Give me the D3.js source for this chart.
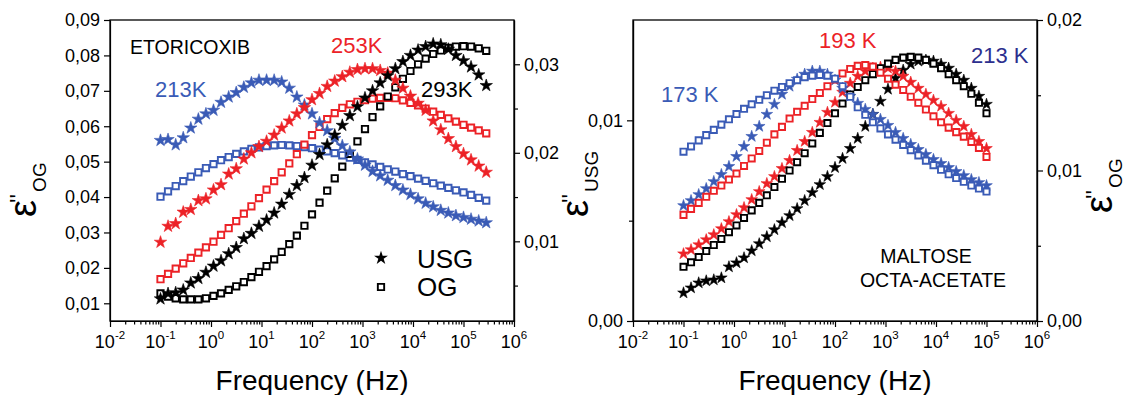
<!DOCTYPE html>
<meta charset="utf-8">
<head>
<style>
body { margin: 0; background: #fff; }
text { font-family: "Liberation Sans", Arial, sans-serif; fill: #000; }
.axis path, .axis line { fill: none; stroke: #000; stroke-width: 1.2px; }
.axis text { font-size: 18px; font-family: "Liberation Sans", Arial, sans-serif; }
</style>
</head>
<body>
<div id="chart"></div>
<script src="https://d3js.org/d3.v7.min.js"></script>
<script>

// frequencies (Hz)
var freqEto = [0.1, 0.141, 0.2, 0.282, 0.398, 0.562, 0.794, 1.12, 1.58, 2.24, 3.16, 4.47, 6.31, 8.91,
  12.6, 17.8, 25.1, 35.5, 50.1, 70.8, 100, 141, 200, 282, 398, 562, 794, 1120, 1580, 2240, 3160,
  4470, 6310, 8910, 12600, 17800, 25100, 35500, 50100, 70800, 100000, 141000, 200000, 282000];
var freqMalt = [0.1, 0.141, 0.2, 0.282, 0.398, 0.562, 0.794, 1.12, 1.58, 2.24, 3.16, 4.47, 6.31, 8.91,
  12.6, 17.8, 25.1, 35.5, 50.1, 70.8, 100, 141, 200, 282, 398, 562, 794, 1120, 1580, 2240, 3160,
  4470, 6310, 8910, 12600, 17800, 25100, 35500, 50100, 70800, 100000];

// ETORICOXIB, OG (left axis) and USG (right axis)
var etoOG213 = [0.0401, 0.0416, 0.0431, 0.0445, 0.0458, 0.0470, 0.0482, 0.0493, 0.0504, 0.0513, 0.0522, 0.0529, 0.0536, 0.0540, 0.0544, 0.0546, 0.0547, 0.0546, 0.0544, 0.0541, 0.0538, 0.0534, 0.0529, 0.0524, 0.0518, 0.0511, 0.0505, 0.0498, 0.0492, 0.0485, 0.0478, 0.0472, 0.0465, 0.0459, 0.0452, 0.0446, 0.0439, 0.0432, 0.0426, 0.0419, 0.0413, 0.0406, 0.0398, 0.0390];
var etoUSG213 = [0.0214, 0.0215, 0.0209, 0.0217, 0.0228, 0.0238, 0.0244, 0.0248, 0.0257, 0.0263, 0.0268, 0.0274, 0.0279, 0.0282, 0.0282, 0.0282, 0.0280, 0.0273, 0.0263, 0.0254, 0.0244, 0.0234, 0.0225, 0.0216, 0.0208, 0.0201, 0.0193, 0.0186, 0.0179, 0.0174, 0.0169, 0.0163, 0.0158, 0.0153, 0.0148, 0.0143, 0.0139, 0.0135, 0.0132, 0.0129, 0.0127, 0.0125, 0.0123, 0.0121];
var etoOG253 = [0.0168, 0.0183, 0.0198, 0.0213, 0.0228, 0.0243, 0.0258, 0.0274, 0.0293, 0.0312, 0.0332, 0.0353, 0.0374, 0.0397, 0.0421, 0.0445, 0.0470, 0.0495, 0.0521, 0.0548, 0.0575, 0.0598, 0.0620, 0.0637, 0.0652, 0.0662, 0.0669, 0.0674, 0.0678, 0.0680, 0.0680, 0.0679, 0.0673, 0.0666, 0.0659, 0.0650, 0.0641, 0.0632, 0.0622, 0.0613, 0.0604, 0.0596, 0.0588, 0.0580];
var etoUSG253 = [0.0099, 0.0117, 0.0120, 0.0133, 0.0136, 0.0146, 0.0148, 0.0158, 0.0164, 0.0176, 0.0182, 0.0193, 0.0200, 0.0207, 0.0213, 0.0220, 0.0228, 0.0236, 0.0244, 0.0251, 0.0260, 0.0267, 0.0275, 0.0281, 0.0286, 0.0291, 0.0294, 0.0295, 0.0295, 0.0293, 0.0290, 0.0282, 0.0273, 0.0264, 0.0256, 0.0248, 0.0236, 0.0226, 0.0216, 0.0207, 0.0199, 0.0192, 0.0185, 0.0178];
var etoOG293 = [0.0128, 0.0119, 0.0114, 0.0111, 0.0111, 0.0111, 0.0114, 0.0121, 0.0128, 0.0138, 0.0148, 0.0160, 0.0174, 0.0189, 0.0205, 0.0224, 0.0245, 0.0267, 0.0291, 0.0319, 0.0351, 0.0384, 0.0418, 0.0453, 0.0486, 0.0522, 0.0557, 0.0592, 0.0626, 0.0656, 0.0684, 0.0710, 0.0734, 0.0756, 0.0775, 0.0791, 0.0804, 0.0814, 0.0821, 0.0825, 0.0826, 0.0825, 0.0820, 0.0813];
var etoUSG293 = [0.0035, 0.0041, 0.0042, 0.0045, 0.0053, 0.0058, 0.0065, 0.0072, 0.0078, 0.0086, 0.0093, 0.0103, 0.0109, 0.0117, 0.0124, 0.0132, 0.0142, 0.0153, 0.0163, 0.0172, 0.0186, 0.0198, 0.0209, 0.0220, 0.0231, 0.0242, 0.0252, 0.0262, 0.0270, 0.0279, 0.0287, 0.0295, 0.0303, 0.0310, 0.0316, 0.0320, 0.0323, 0.0322, 0.0317, 0.0310, 0.0304, 0.0297, 0.0288, 0.0276];

// MALTOSE OCTA-ACETATE, USG (left axis) and OG (right axis)
var maltOG173 = [0.01125, 0.0116, 0.0120, 0.01235, 0.0127, 0.01305, 0.0134, 0.01375, 0.0141, 0.0144, 0.0147, 0.0150, 0.0153, 0.01555, 0.0158, 0.0160, 0.0162, 0.0163, 0.01635, 0.0163, 0.0161, 0.0156, 0.0149, 0.0142, 0.0137, 0.0132, 0.0128, 0.0124, 0.01205, 0.0117, 0.01135, 0.0110, 0.01065, 0.01035, 0.01005, 0.00975, 0.0095, 0.00925, 0.0090, 0.0088, 0.0086];
var maltUSG173 = [0.00575, 0.0060, 0.0063, 0.0066, 0.00695, 0.0073, 0.0077, 0.0082, 0.0087, 0.0092, 0.0097, 0.0103, 0.0108, 0.0113, 0.0117, 0.01205, 0.0123, 0.01245, 0.01245, 0.0123, 0.0120, 0.0116, 0.0112, 0.01085, 0.01055, 0.0103, 0.01005, 0.00975, 0.0094, 0.0091, 0.0088, 0.00855, 0.0083, 0.00805, 0.00785, 0.00765, 0.00745, 0.00725, 0.00705, 0.0069, 0.00675];
var maltOG193 = [0.00705, 0.00745, 0.00785, 0.00825, 0.00865, 0.0090, 0.0094, 0.0098, 0.0103, 0.0108, 0.0113, 0.01185, 0.0124, 0.0129, 0.01345, 0.0139, 0.0143, 0.01475, 0.01515, 0.0156, 0.01605, 0.01645, 0.01675, 0.01695, 0.0170, 0.0169, 0.0165, 0.0161, 0.0157, 0.01535, 0.0149, 0.0145, 0.01405, 0.0136, 0.0132, 0.01285, 0.01255, 0.01225, 0.0119, 0.0115, 0.0109];
var maltUSG193 = [0.00335, 0.00355, 0.0038, 0.00405, 0.0043, 0.0046, 0.00495, 0.0053, 0.00565, 0.00605, 0.00645, 0.00685, 0.0072, 0.0076, 0.0080, 0.0085, 0.00895, 0.0094, 0.0099, 0.0104, 0.0109, 0.0114, 0.01185, 0.0122, 0.01245, 0.0126, 0.01265, 0.0126, 0.01245, 0.0122, 0.0119, 0.0116, 0.0113, 0.0110, 0.0107, 0.01035, 0.0100, 0.0097, 0.0093, 0.00895, 0.0086];
var maltOG213 = [0.0036, 0.0039, 0.00425, 0.00465, 0.00505, 0.00545, 0.0059, 0.00635, 0.00685, 0.00735, 0.00785, 0.00835, 0.0089, 0.00945, 0.0100, 0.01055, 0.01115, 0.0118, 0.0125, 0.01315, 0.0138, 0.01445, 0.01505, 0.01555, 0.0160, 0.0164, 0.0168, 0.0171, 0.01735, 0.0175, 0.01755, 0.0175, 0.01735, 0.0171, 0.0168, 0.0164, 0.0160, 0.0156, 0.0151, 0.0145, 0.0138];
var maltUSG213 = [0.0014, 0.00165, 0.0019, 0.0020, 0.00205, 0.00215, 0.0027, 0.0029, 0.00315, 0.0035, 0.00385, 0.0042, 0.00455, 0.0049, 0.00525, 0.0056, 0.0060, 0.0064, 0.0068, 0.0072, 0.00765, 0.0081, 0.0086, 0.0091, 0.0097, 0.0103, 0.01095, 0.01155, 0.0121, 0.0125, 0.0128, 0.01295, 0.0130, 0.01295, 0.0128, 0.0126, 0.0123, 0.0120, 0.0116, 0.0112, 0.0108];

// tick values
var decades = [1e-2, 1e-1, 1, 10, 100, 1e3, 1e4, 1e5, 1e6];
var etoLeftTicks = [0.01, 0.02, 0.03, 0.04, 0.05, 0.06, 0.07, 0.08, 0.09];
var etoRightTicks = [0.01, 0.02, 0.03];
var etoRightMinor = [0.005, 0.015, 0.025];
var maltLeftTicks = [0, 0.01];
var maltLeftMinor = [0.005];
var maltRightTicks = [0, 0.01, 0.02];
var maltRightMinor = [0.005, 0.015];

var blue = "#3a5bb6", red = "#ec2227", navy = "#2d2f8e";

var svg = d3.select("#chart").append("svg")
    .attr("width", 1129)
    .attr("height", 395);

var top0 = 20, bot0 = 321;

function comma(d) { return d3.format(".2f")(d).replace(".", ","); }

function panel(p) {
  var x = d3.scaleLog().domain([1e-2, 1e6]).range([p.x0, p.x1]);
  var yL = d3.scaleLinear().domain(p.leftDomain).range([bot0, top0]);
  var yR = d3.scaleLinear().domain(p.rightDomain).range([bot0, top0]);
  var g = svg.append("g");

  var minor = x.ticks().filter(function(d) {
    return Math.abs(Math.log10(d) - Math.round(Math.log10(d))) > 1e-6;
  });

  // x axis
  g.append("g").attr("class", "axis")
    .attr("transform", "translate(0," + bot0 + ")")
    .call(d3.axisBottom(x).tickValues(minor).tickSize(3.5).tickSizeOuter(0).tickFormat(""));
  g.append("g").attr("class", "axis")
    .attr("transform", "translate(0," + bot0 + ")")
    .call(d3.axisBottom(x).tickValues(decades).tickSize(6).tickSizeOuter(0).tickFormat(""));

  g.selectAll(".xlab")
    .data(decades)
    .enter().append("text")
      .attr("x", function(d) { return x(d); })
      .attr("y", 348)
      .attr("text-anchor", "middle")
      .style("font-size", "18px")
      .each(function(d) {
        var t = d3.select(this);
        t.append("tspan").text("10");
        t.append("tspan").attr("dy", -9).style("font-size", "11.5px")
          .text(Math.round(Math.log10(d)));
      });

  // left axis
  g.append("g").attr("class", "axis")
    .attr("transform", "translate(" + p.x0 + ",0)")
    .call(d3.axisLeft(yL).tickValues(p.leftTicks).tickSize(6).tickPadding(4).tickSizeOuter(0).tickFormat(comma));
  if (p.leftMinor)
    g.append("g").attr("class", "axis")
      .attr("transform", "translate(" + p.x0 + ",0)")
      .call(d3.axisLeft(yL).tickValues(p.leftMinor).tickSize(4).tickSizeOuter(0).tickFormat(""));

  // right axis
  g.append("g").attr("class", "axis")
    .attr("transform", "translate(" + p.x1 + ",0)")
    .call(d3.axisRight(yR).tickValues(p.rightTicks).tickSize(6).tickPadding(4).tickSizeOuter(0).tickFormat(comma));
  g.append("g").attr("class", "axis")
    .attr("transform", "translate(" + p.x1 + ",0)")
    .call(d3.axisRight(yR).tickValues(p.rightMinor).tickSize(4).tickSizeOuter(0).tickFormat(""));

  // frame
  g.append("rect")
    .attr("x", p.x0).attr("y", top0)
    .attr("width", p.x1 - p.x0).attr("height", bot0 - top0)
    .attr("fill", "none").attr("stroke", "#000").attr("stroke-width", 1.3);

  // markers
  p.series.forEach(function(s) {
    var y = s.axis == "left" ? yL : yR;
    var sym = s.shape == "star"
      ? d3.symbol().type(d3.symbolStar).size(p.starSize)
      : d3.symbol().type(d3.symbolSquare).size(p.squareSize);
    g.append("g").selectAll("path")
      .data(d3.zip(p.freq, s.values))
      .enter().append("path")
        .attr("transform", function(d) { return "translate(" + x(d[0]) + "," + y(d[1]) + ")"; })
        .attr("d", sym)
        .attr("fill", s.shape == "star" ? s.color : "#fff")
        .attr("stroke", s.color)
        .attr("stroke-width", s.shape == "star" ? 0.6 : 1.9);
  });

  // x title
  g.append("text")
    .attr("x", (p.x0 + p.x1) / 2)
    .attr("y", 390)
    .attr("text-anchor", "middle")
    .style("font-size", "28px")
    .text("Frequency (Hz)");

  return {x: x, yL: yL, yR: yR};
}

function yTitle(px, py, sub) {
  var t = svg.append("text")
    .attr("transform", "translate(" + px + "," + py + ") rotate(-90)");
  t.append("tspan").style("font-size", "38px").text("ε");
  t.append("tspan").attr("dx", -3).attr("dy", -9).style("font-size", "24px").text("''");
  t.append("tspan").attr("dx", 2).attr("dy", 19).style("font-size", "19px").text(sub);
}

function label(px, py, txt, color, size) {
  svg.append("text")
    .attr("x", px).attr("y", py)
    .style("font-size", size + "px")
    .style("fill", color)
    .text(txt);
}

// ETORICOXIB panel
panel({
  x0: 110, x1: 514, freq: freqEto, starSize: 48, squareSize: 40,
  leftDomain: [0.005, 0.09], rightDomain: [0.001, 0.035],
  leftTicks: etoLeftTicks, leftMinor: null,
  rightTicks: etoRightTicks, rightMinor: etoRightMinor,
  series: [
    {values: etoOG213, axis: "left", shape: "square", color: blue},
    {values: etoOG253, axis: "left", shape: "square", color: red},
    {values: etoOG293, axis: "left", shape: "square", color: "#000"},
    {values: etoUSG213, axis: "right", shape: "star", color: blue},
    {values: etoUSG253, axis: "right", shape: "star", color: red},
    {values: etoUSG293, axis: "right", shape: "star", color: "#000"}
  ]
});

// MALTOSE OCTA-ACETATE panel
panel({
  x0: 633, x1: 1037, freq: freqMalt, starSize: 42, squareSize: 38,
  leftDomain: [0, 0.015], rightDomain: [0, 0.02],
  leftTicks: maltLeftTicks, leftMinor: maltLeftMinor,
  rightTicks: maltRightTicks, rightMinor: maltRightMinor,
  series: [
    {values: maltUSG213, axis: "left", shape: "star", color: "#000"},
    {values: maltUSG193, axis: "left", shape: "star", color: red},
    {values: maltUSG173, axis: "left", shape: "star", color: blue},
    {values: maltOG213, axis: "right", shape: "square", color: "#000"},
    {values: maltOG193, axis: "right", shape: "square", color: red},
    {values: maltOG173, axis: "right", shape: "square", color: blue}
  ]
});

// axis titles
yTitle(36, 217, "OG");
yTitle(588, 217, "USG");
yTitle(1112, 213, "OG");

// annotations
label(130, 54, "ETORICOXIB", "#000", 19.5);
label(155, 97, "213K", blue, 22);
label(331, 53, "253K", red, 22);
label(421, 97, "293K", "#000", 22);

label(661, 102, "173 K", blue, 22);
label(819, 48, "193 K", red, 22);
label(971, 63, "213 K", navy, 22);
svg.append("text").attr("x", 926).attr("y", 263).attr("text-anchor", "middle")
  .style("font-size", "19.5px").text("MALTOSE");
svg.append("text").attr("x", 933).attr("y", 287).attr("text-anchor", "middle")
  .style("font-size", "19.5px").text("OCTA-ACETATE");

// legend
svg.append("path")
  .attr("transform", "translate(381,258)")
  .attr("d", d3.symbol().type(d3.symbolStar).size(60))
  .attr("fill", "#000");
label(417, 268, "USG", "#000", 26);
svg.append("path")
  .attr("transform", "translate(381,287)")
  .attr("d", d3.symbol().type(d3.symbolSquare).size(40))
  .attr("fill", "#fff").attr("stroke", "#000").attr("stroke-width", 1.9);
label(417, 296, "OG", "#000", 26);

</script>
</body>
</html>
